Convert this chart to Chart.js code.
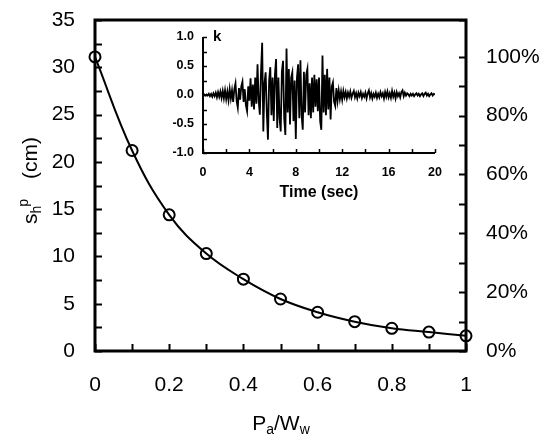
<!DOCTYPE html>
<html>
<head>
<meta charset="utf-8">
<script src="https://cdn.jsdelivr.net/npm/chart.js@4.4.1/dist/chart.umd.min.js"></script>
<style>
  body { margin: 0; background: #fff; }
  #wrap { position: relative; width: 553px; height: 438px; font-family: "Liberation Sans", Arial, sans-serif; color: #000; }
  #main { position: absolute; left: 0; top: 0; }
  #inset { position: absolute; left: 140px; top: 25px; }
  .title { position: absolute; font-size: 21px; line-height: 21px; white-space: nowrap; color: #000; }
  .title sub { font-size: 14px; vertical-align: -4px; line-height: 0; }
  #xtitle { left: 281px; top: 412px; transform: translateX(-50%); }
</style>
</head>
<body>
<div id="wrap">
  <canvas id="main" width="553" height="438"></canvas>
  <canvas id="inset" width="310" height="185"></canvas>
  <div class="title" id="xtitle">P<sub>a</sub>/W<sub>w</sub></div>
</div>
<script>
// --- Data: main curve ---
const ratio = [0, 0.1, 0.2, 0.3, 0.4, 0.5, 0.6, 0.7, 0.8, 0.9, 1];
const settlement = [31.1, 21.2, 14.4, 10.3, 7.6, 5.5, 4.1, 3.1, 2.4, 2.0, 1.6];
const percentMax = 112.5; // 100% = settlement at Pa/Ww = 0

// --- Data: inset accelerogram, k sampled every 0.1 s ---
const kStep = 0.1;
const kValues = [
  0, 0.01, -0.01, 0.01, -0.01, 0.02, -0.02, 0.02, -0.03, 0.03,
  -0.02, 0.04, -0.04, 0.05, -0.03, 0.06, -0.05, 0.07, -0.06, 0.08,
  -0.07, 0.06, -0.09, 0.1, -0.06, 0.08, -0.12, 0.1, 0.2, -0.1,
  -0.22, 0.12, -0.08, 0.15, 0.23, -0.12, 0.1, -0.18, -0.28, 0.15,
  -0.1, 0.29, -0.2, 0.18, -0.25, 0.3, -0.15, 0.53, -0.1, -0.34,
  0.4, 0.9, -0.63, 0.2, 0.39, -0.3, -0.77, 0.25, 0.48, -0.35,
  0.3, -0.45, 0.35, 0.62, -0.57, 0.3, -0.4, -0.63, 0.4, 0.59,
  -0.4, -0.69, 0.8, -0.3, 0.45, -0.51, 0.3, 0.39, -0.45, 0.25,
  -0.76, 0.3, 0.53, -0.4, 0.6, -0.35, -0.6, 0.4, -0.3, 0.35,
  0.45, -0.35, 0.2, -0.4, 0.3, -0.3, 0.35, -0.2, 0.27, -0.28,
  0.3, -0.45, -0.6, 0.68, -0.3, 0.35, -0.35, 0.45, -0.25, 0.3,
  -0.42, 0.15, 0.22, -0.12, -0.19, 0.12, -0.1, 0.08, -0.07, 0.06,
  -0.08, 0.07, -0.04, 0.05, -0.06, 0.04, -0.03, 0.06, -0.05, 0.02,
  0.07, -0.04, 0.03, -0.06, 0.04, -0.02, 0.05, -0.05, 0.02, -0.03,
  0.04, -0.06, 0.03, 0.08, -0.04, 0.03, -0.06, 0.02, -0.03, 0.04,
  -0.05, 0.02, -0.04, 0.05, -0.02, 0.03, -0.06, 0.05, -0.03, 0.06,
  -0.04, 0.03, -0.05, 0.07, -0.03, 0.04, -0.06, 0.05, -0.02, 0.03,
  -0.04, 0.05, 0.08, -0.02, 0.04, -0.01, 0.03, 0.01, -0.02, 0.02,
  -0.01, 0.02, -0.02, 0.01, 0.03, -0.01, 0.02, -0.02, 0.01, 0.03,
  -0.02, 0.02, 0.04, -0.01, 0.02, -0.02, 0.01, 0.03, -0.01, 0.02,
  0.01
];
const timeSec = kValues.map((_, i) => +(i * kStep).toFixed(1));

const FONT = '"Liberation Sans", Arial, sans-serif';

// drop the label overhang Chart.js adds above/beside the plot
function noOverhang(s) {
  s.paddingTop = 0;
  s.paddingBottom = 0;
  s.paddingLeft = 0;
  s.paddingRight = 0;
}

// inward tick marks + axis frame, using each scale's own ticks
function frameTicks(cfg) {
  return {
    id: 'frameTicks',
    afterDraw(chart) {
      const ctx = chart.ctx, a = chart.chartArea;
      ctx.save();
      ctx.strokeStyle = '#000';
      ctx.lineWidth = cfg.tickWidth;
      ctx.beginPath();
      Object.keys(cfg.ticks).forEach(id => {
        const s = chart.scales[id], len = cfg.ticks[id];
        s.ticks.forEach(t => {
          const p = Math.round(s.getPixelForValue(t.value)) + 0.5;
          if (s.position === 'left') { ctx.moveTo(a.left, p); ctx.lineTo(a.left + len, p); }
          else if (s.position === 'right') { ctx.moveTo(a.right, p); ctx.lineTo(a.right - len, p); }
          else { ctx.moveTo(p, a.bottom); ctx.lineTo(p, a.bottom - len); }
        });
      });
      ctx.stroke();
      ctx.lineWidth = cfg.frameWidth;
      ctx.beginPath();
      if (cfg.box) {
        ctx.rect(a.left, a.top, a.right - a.left, a.bottom - a.top);
      } else {
        ctx.moveTo(a.left, a.top);
        ctx.lineTo(a.left, a.bottom);
        ctx.lineTo(a.right, a.bottom);
      }
      ctx.stroke();
      if (cfg.label) {
        ctx.fillStyle = '#000';
        ctx.font = cfg.label.font;
        ctx.textBaseline = 'middle';
        ctx.fillText(cfg.label.text, a.left + cfg.label.dx, a.top + cfg.label.dy);
      }
      ctx.restore();
    }
  };
}

// rotated y title: s with subscript h and superscript p, then (cm)
const yTitlePlugin = {
  id: 'yTitle',
  afterDraw(chart) {
    const ctx = chart.ctx;
    const big = '21px ' + FONT, small = '14px ' + FONT;
    const parts = [
      { t: 's', f: big, dy: 0, gap: 0 },
      { t: 'h', f: small, dy: 4, gap: 0 },
      { t: 'p', f: small, dy: -9, gap: -1 },
      { t: '(cm)', f: big, dy: 0, gap: 20 }
    ];
    let total = 0;
    parts.forEach(p => { ctx.font = p.f; p.w = ctx.measureText(p.t).width; total += p.gap + p.w; });
    ctx.save();
    ctx.translate(29, 180.5);
    ctx.rotate(-Math.PI / 2);
    ctx.fillStyle = '#000';
    ctx.textBaseline = 'alphabetic';
    let x = -total / 2;
    parts.forEach(p => {
      x += p.gap;
      ctx.font = p.f;
      ctx.fillText(p.t, x, 7.5 + p.dy);
      x += p.w;
    });
    ctx.restore();
  }
};

// --- Main chart ---
const tickFont = { family: FONT, size: 21 };
new Chart(document.getElementById('main'), {
  type: 'line',
  data: {
    datasets: [{
      data: ratio.map((r, i) => ({ x: r, y: settlement[i] })),
      borderColor: '#000',
      borderWidth: 2,
      tension: 0.4,
      pointRadius: 5.5,
      pointBorderWidth: 2,
      pointBorderColor: '#000',
      pointBackgroundColor: 'rgba(0,0,0,0)',
      clip: false
    }]
  },
  options: {
    responsive: false,
    animation: false,
    layout: { padding: { top: 20 } },
    plugins: { legend: { display: false }, tooltip: { enabled: false } },
    scales: {
      x: {
        type: 'linear', min: 0, max: 1,
        grid: { display: false, drawTicks: false }, border: { display: false },
        ticks: {
          stepSize: 0.1, padding: 22, font: tickFont, color: '#000', maxRotation: 0, autoSkip: false,
          callback: v => Math.round(v * 10) % 2 === 0 ? String(Math.round(v * 10) / 10) : ''
        },
        afterFit: s => { s.height = 87; noOverhang(s); }
      },
      y: {
        position: 'left', min: 0, max: 35,
        grid: { display: false, drawTicks: false }, border: { display: false },
        ticks: {
          stepSize: 2.5, padding: 20, font: tickFont, color: '#000', autoSkip: false,
          callback: v => v % 5 === 0 ? String(v) : ''
        },
        afterFit: s => { s.width = 95; noOverhang(s); }
      },
      y2: {
        position: 'right', min: 0, max: percentMax,
        grid: { display: false, drawTicks: false }, border: { display: false },
        ticks: {
          stepSize: 10, padding: 20, font: tickFont, color: '#000', autoSkip: false,
          callback: v => v % 20 === 0 ? v + '%' : ''
        },
        afterFit: s => { s.width = 87; noOverhang(s); }
      }
    }
  },
  plugins: [frameTicks({ tickWidth: 2, frameWidth: 3, box: true, ticks: { x: 7, y: 7, y2: 7 } }), yTitlePlugin]
});

// --- Inset chart ---
const insetFont = { family: FONT, size: 12.5, weight: 'bold' };
new Chart(document.getElementById('inset'), {
  type: 'line',
  data: {
    labels: timeSec,
    datasets: [{
      data: kValues,
      borderColor: '#000',
      borderWidth: 1.8,
      pointRadius: 0,
      tension: 0
    }]
  },
  options: {
    responsive: false,
    animation: false,
    layout: { padding: { top: 12, right: 15 } },
    plugins: { legend: { display: false }, tooltip: { enabled: false } },
    scales: {
      x: {
        type: 'linear', min: 0, max: 20,
        grid: { display: false, drawTicks: false }, border: { display: false },
        ticks: {
          stepSize: 2, padding: 12, font: insetFont, color: '#000', maxRotation: 0, autoSkip: false,
          callback: v => v % 4 === 0 ? String(v) : ''
        },
        title: { display: true, text: 'Time (sec)', font: { family: FONT, size: 16, weight: 'bold' }, color: '#000', padding: { bottom: 8 } },
        afterFit: s => { s.height = 57; noOverhang(s); }
      },
      y: {
        position: 'left', min: -1, max: 1,
        grid: { display: false, drawTicks: false }, border: { display: false },
        ticks: {
          stepSize: 0.25, padding: 9, font: insetFont, color: '#000', autoSkip: false,
          callback: v => Math.abs(v * 2 - Math.round(v * 2)) < 1e-9 ? v.toFixed(1) : ''
        },
        afterFit: s => { s.width = 63; noOverhang(s); }
      }
    }
  },
  plugins: [frameTicks({
    tickWidth: 1.5, frameWidth: 2, box: false, ticks: { x: 4, y: 4 },
    label: { text: 'k', font: 'bold 15px ' + FONT, dx: 10, dy: 0 }
  })]
});
</script>
</body>
</html>
